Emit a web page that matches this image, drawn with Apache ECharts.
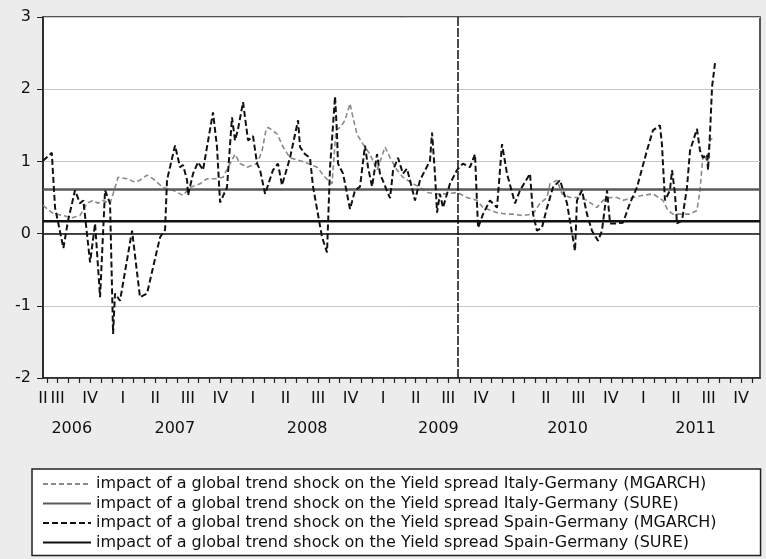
<!DOCTYPE html>
<html>
<head>
<meta charset="utf-8">
<script src="https://cdn.jsdelivr.net/npm/echarts@6/dist/echarts.min.js"></script>
<style>
  html, body { margin: 0; padding: 0; background: #ececec; }
  #chart { width: 766px; height: 559px; }
</style>
</head>
<body>
<div id="chart"></div>
<script>
// x values are months since Jan 2006 (12 = Jan 2007)
const xMin = 4.65
const xMax = 70.74
const eventMonth = 42.9   // vertical marker, late July 2009

const seriesNames = [
  'impact of a global trend shock on the Yield spread Italy-Germany (MGARCH)',
  'impact of a global trend shock on the Yield spread Italy-Germany (SURE)',
  'impact of a global trend shock on the Yield spread Spain-Germany (MGARCH)',
  'impact of a global trend shock on the Yield spread Spain-Germany (SURE)'
]

const italyMgarch = [
  [4.65, 0.39], [5.58, 0.28], [6.50, 0.25], [7.33, 0.22], [8.06, 0.25], [8.71, 0.42],
  [9.26, 0.46], [9.72, 0.42], [10.18, 0.46], [10.83, 0.42], [11.11, 0.55], [11.57, 0.78],
  [12.40, 0.76], [13.13, 0.71], [13.59, 0.74], [14.24, 0.81], [14.79, 0.76], [15.71, 0.64],
  [16.64, 0.60], [17.56, 0.53], [18.20, 0.64], [19.12, 0.69], [19.77, 0.76], [20.69, 0.76],
  [21.24, 0.78], [21.89, 0.97], [22.35, 1.10], [22.81, 0.97], [23.46, 0.92], [24.38, 0.97],
  [24.85, 1.15], [25.22, 1.45], [25.41, 1.47], [26.23, 1.38], [26.78, 1.20], [27.42, 1.05],
  [28.34, 1.01], [29.08, 0.97], [29.91, 0.92], [30.65, 0.78], [31.29, 0.69], [31.66, 1.43],
  [32.03, 1.47], [32.49, 1.57], [32.95, 1.80], [33.22, 1.61], [33.59, 1.38], [34.05, 1.26],
  [34.79, 1.10], [35.44, 0.88], [36.18, 1.20], [36.64, 1.05], [37.28, 0.88], [37.83, 0.78],
  [38.76, 0.69], [39.40, 0.64], [40.05, 0.57], [40.97, 0.55], [41.89, 0.55], [42.81, 0.57],
  [43.73, 0.50], [44.66, 0.46], [45.21, 0.36], [46.50, 0.29], [47.42, 0.27], [47.97, 0.27],
  [48.89, 0.25], [49.82, 0.27], [50.46, 0.42], [51.11, 0.50], [51.38, 0.69], [52.03, 0.74],
  [52.49, 0.55], [53.23, 0.50], [54.15, 0.50], [54.79, 0.46], [55.71, 0.36], [56.27, 0.46],
  [56.92, 0.50], [57.56, 0.50], [58.11, 0.46], [59.03, 0.50], [59.95, 0.53], [60.87, 0.55],
  [61.79, 0.46], [62.26, 0.32], [62.72, 0.27], [63.37, 0.27], [64.29, 0.27], [64.93, 0.32],
  [65.21, 0.60], [65.49, 1.10], [65.86, 1.01], [66.13, 1.29], [66.41, 1.33]
]

const spainMgarch = [
  [4.65, 1.01], [5.46, 1.12], [5.76, 0.36], [6.53, -0.20], [6.96, 0.18], [7.60, 0.60],
  [8.06, 0.42], [8.37, 0.46], [8.99, -0.40], [9.45, 0.14], [9.91, -0.88], [10.37, 0.60],
  [10.83, 0.42], [11.11, -1.39], [11.29, -0.83], [11.75, -0.93], [12.86, 0.04], [13.59, -0.88],
  [14.24, -0.83], [14.79, -0.47], [15.44, -0.05], [15.90, 0.05], [16.08, 0.74], [16.82, 1.22],
  [17.28, 0.92], [17.56, 0.95], [17.93, 0.74], [18.02, 0.53], [18.48, 0.83], [18.94, 0.99],
  [19.40, 0.88], [20.32, 1.68], [20.69, 1.20], [20.97, 0.43], [21.61, 0.64], [22.07, 1.61],
  [22.35, 1.29], [22.63, 1.45], [23.09, 1.82], [23.55, 1.29], [24.01, 1.35], [24.38, 0.97],
  [24.66, 0.88], [25.12, 0.55], [25.85, 0.88], [26.31, 0.97], [26.68, 0.67], [27.42, 1.05],
  [28.16, 1.57], [28.34, 1.20], [28.80, 1.10], [29.26, 1.05], [29.54, 0.65], [30.37, -0.05],
  [30.83, -0.26], [31.11, 0.92], [31.57, 1.90], [31.75, 1.38], [31.84, 0.97], [32.31, 0.83],
  [32.95, 0.34], [33.41, 0.60], [33.87, 0.65], [34.33, 1.22], [34.61, 0.92], [34.98, 0.65],
  [35.44, 1.10], [35.71, 0.83], [36.64, 0.49], [36.92, 0.88], [37.37, 1.05], [37.83, 0.83],
  [38.20, 0.90], [38.48, 0.74], [38.94, 0.46], [39.40, 0.74], [40.32, 1.01], [40.51, 1.40],
  [40.78, 0.83], [40.97, 0.29], [41.24, 0.55], [41.52, 0.36], [42.16, 0.69], [42.81, 0.88],
  [43.36, 0.97], [44.01, 0.92], [44.47, 1.10], [44.75, 0.08], [45.21, 0.27], [45.85, 0.46],
  [46.50, 0.36], [46.96, 1.24], [47.42, 0.83], [48.16, 0.42], [48.62, 0.60], [49.54, 0.83],
  [49.82, 0.27], [50.18, 0.04], [50.64, 0.08], [51.11, 0.36], [51.66, 0.64], [52.31, 0.74],
  [52.95, 0.42], [53.69, -0.24], [53.87, 0.46], [54.33, 0.60], [54.79, 0.27], [55.25, 0.04],
  [55.81, -0.10], [56.17, 0.04], [56.64, 0.60], [56.92, 0.14], [57.37, 0.14], [58.11, 0.15],
  [58.75, 0.42], [59.40, 0.64], [60.32, 1.15], [60.87, 1.43], [61.52, 1.50], [61.70, 1.24],
  [61.98, 0.46], [62.44, 0.60], [62.63, 0.88], [62.90, 0.55], [63.09, 0.14], [63.55, 0.18],
  [64.01, 0.64], [64.29, 1.15], [64.93, 1.45], [65.21, 1.15], [65.49, 1.05], [65.86, 1.10],
  [65.95, 0.88], [66.13, 1.38], [66.32, 2.03], [66.59, 2.36]
]

// constant SURE estimates
const italySure = 0.61
const spainSure = 0.17

// axis labels
const quarterNames = ['I', 'II', 'III', 'IV']
const monthTicks = []
for (let m = 5; m <= 70; m++) monthTicks.push(m)
const quarterTicks = [xMin, 6, 9, 12, 15, 18, 21, 24, 27, 30, 33, 36, 39, 42, 45, 48, 51, 54, 57, 60, 63, 66, 69]
const yearTicks = [7.3, 16.8, 29.0, 41.1, 53.0, 64.8]
const yearLabels = ['2006', '2007', '2008', '2009', '2010', '2011']

const chart = echarts.init(document.getElementById('chart'))
const font = 'DejaVu Sans'

chart.setOption({
  animation: false,
  backgroundColor: '#ececec',
  textStyle: { fontFamily: font },
  grid: {
    left: 43, right: 6, top: 17, bottom: 181,
    show: true,
    backgroundColor: '#ffffff',
    borderColor: '#222',
    borderWidth: 1.5
  },
  legend: {
    orient: 'vertical',
    left: 32,
    top: 469,
    padding: [7, 44, 5, 10],
    itemWidth: 48,
    itemHeight: 16,
    itemGap: 3.5,
    borderColor: '#222',
    borderWidth: 1.5,
    backgroundColor: '#ffffff',
    itemStyle: { opacity: 0 },
    data: seriesNames,
    textStyle: { fontFamily: font, fontSize: 16, color: '#111', lineHeight: 16 }
  },
  xAxis: [
    {
      type: 'value',
      min: xMin,
      max: xMax,
      splitLine: { show: false },
      axisLine: { onZero: false, lineStyle: { color: '#222', width: 1.5 } },
      axisTick: { show: true, customValues: monthTicks, length: 5, lineStyle: { color: '#222', width: 1.2 } },
      axisLabel: {
        customValues: quarterTicks,
        margin: 13,
        fontSize: 16,
        color: '#111',
        formatter: v => quarterNames[Math.floor((v % 12) / 3)]
      }
    },
    {
      type: 'value',
      position: 'bottom',
      min: xMin,
      max: xMax,
      splitLine: { show: false },
      axisLine: { show: false, onZero: false },
      axisTick: { show: false },
      axisLabel: {
        customValues: yearTicks,
        margin: 43,
        fontSize: 16,
        color: '#111',
        formatter: v => yearLabels[yearTicks.indexOf(v)]
      }
    }
  ],
  yAxis: {
    type: 'value',
    min: -2,
    max: 3,
    interval: 1,
    axisLine: { show: true, lineStyle: { color: '#222', width: 1.5 } },
    axisTick: { show: true, length: 6, lineStyle: { color: '#222' } },
    axisLabel: { fontSize: 16, color: '#111', margin: 12 },
    splitLine: { lineStyle: { color: '#c8c8c8', width: 1 } }
  },
  series: [
    {
      name: seriesNames[0],
      type: 'line',
      symbol: 'none',
      data: italyMgarch,
      lineStyle: { color: '#8a8a8a', width: 1.6, type: [5, 3] },
      itemStyle: { color: '#8a8a8a' },
      z: 2
    },
    {
      name: seriesNames[1],
      type: 'line',
      symbol: 'none',
      data: [[xMin, italySure], [xMax, italySure]],
      lineStyle: { color: '#5a5a5a', width: 2.5 },
      itemStyle: { color: '#5a5a5a' },
      z: 3
    },
    {
      name: seriesNames[2],
      type: 'line',
      symbol: 'none',
      data: spainMgarch,
      lineStyle: { color: '#111', width: 2, type: [6, 3] },
      itemStyle: { color: '#111' },
      z: 4,
      markLine: {
        silent: true,
        symbol: ['none', 'none'],
        label: { show: false },
        data: [
          { yAxis: 0, lineStyle: { color: '#111', width: 1.5, type: 'solid' } },
          { xAxis: eventMonth, lineStyle: { color: '#111', width: 1.5, type: [9, 2] } }
        ]
      }
    },
    {
      name: seriesNames[3],
      type: 'line',
      symbol: 'none',
      data: [[xMin, spainSure], [xMax, spainSure]],
      lineStyle: { color: '#111', width: 2.5 },
      itemStyle: { color: '#111' },
      z: 3
    }
  ]
})
</script>
</body>
</html>
